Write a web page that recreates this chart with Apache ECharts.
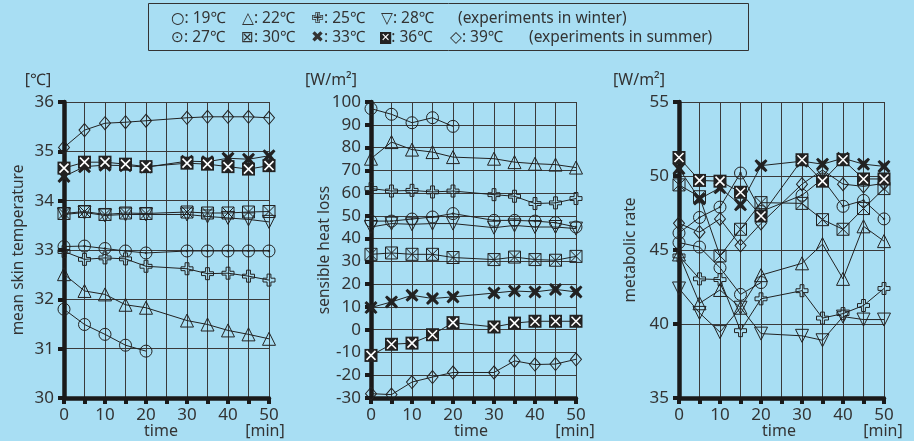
<!DOCTYPE html>
<html>
<head>
<meta charset="utf-8">
<script src="https://cdn.jsdelivr.net/npm/echarts@6/dist/echarts.min.js"></script>
<style>
html,body{margin:0;padding:0;background:#a8def3}
#main{width:914px;height:441px}
</style>
</head>
<body>
<div id="main"></div>
<script>
// sampling times [min] (no reading at 25)
var times = [0, 5, 10, 15, 20, 30, 35, 40, 45, 50];

// mean skin temperature [C]
var skin19 = [31.80, 31.49, 31.29, 31.07, 30.95];
var skin22 = [32.51, 32.17, 32.10, 31.89, 31.83, 31.57, 31.49, 31.37, 31.29, 31.20];
var skin25 = [32.97, 32.81, 32.84, 32.82, 32.67, 32.62, 32.52, 32.53, 32.47, 32.39];
var skin28 = [33.72, 33.76, 33.70, 33.72, 33.72, 33.72, 33.68, 33.65, 33.62, 33.57];
var skin27 = [33.07, 33.08, 33.03, 32.98, 32.94, 32.98, 32.98, 32.98, 32.98, 32.98];
var skin30 = [33.74, 33.78, 33.72, 33.75, 33.74, 33.77, 33.75, 33.75, 33.77, 33.78];
var skin33 = [34.49, 34.69, 34.72, 34.71, 34.68, 34.80, 34.79, 34.86, 34.84, 34.91];
var skin36 = [34.66, 34.78, 34.78, 34.74, 34.69, 34.76, 34.74, 34.69, 34.64, 34.71];
var skin39 = [35.08, 35.43, 35.57, 35.59, 35.62, 35.68, 35.70, 35.70, 35.70, 35.68];

// sensible heat loss [W/m2]
var heat19 = [97.1, 94.6, 90.9, 93.1, 89.3];
var heat22 = [75.1, 82.4, 79.1, 78.0, 75.8, 75.1, 73.6, 72.9, 72.5, 71.2];
var heat25 = [62.0, 60.9, 61.2, 60.5, 60.9, 59.3, 58.6, 55.4, 55.7, 57.6];
var heat28 = [45.1, 46.6, 46.3, 46.6, 46.6, 44.8, 45.8, 45.1, 45.1, 44.4];
var heat27 = [47.7, 47.7, 48.6, 49.5, 51.0, 48.0, 48.0, 47.7, 47.0, 45.1];
var heat30 = [33.1, 33.7, 33.1, 33.1, 31.7, 30.8, 31.9, 30.8, 30.5, 32.2];
var heat33 = [9.7, 12.2, 15.1, 13.7, 14.4, 16.1, 17.0, 16.6, 17.7, 16.6];
var heat36 = [-11.3, -6.4, -5.9, -2.2, 3.1, 1.2, 2.9, 3.7, 3.7, 3.7];
var heat39 = [-28.1, -28.5, -23.0, -20.8, -18.8, -18.8, -13.7, -15.3, -15.1, -13.0];

// metabolic rate [W/m2]
var meta19 = [45.5, 45.2, 43.8, 42.0, 42.8];
var meta22 = [44.7, 41.4, 42.3, 41.1, 43.3, 44.1, 45.4, 43.05, 46.6, 45.6];
var meta25 = [44.6, 43.05, 43.0, 39.55, 41.7, 42.25, 40.4, 40.7, 41.25, 42.4];
var meta28 = [42.4, 40.75, 39.45, 41.1, 39.35, 39.2, 38.9, 40.5, 40.3, 40.3];
var meta27 = [46.15, 47.2, 47.9, 50.2, 47.6, 48.7, 49.8, 47.95, 48.35, 47.1];
var meta30 = [49.4, 48.6, 44.6, 46.4, 48.2, 48.15, 47.05, 46.4, 47.8, 49.15];
var meta33 = [50.5, 48.45, 49.2, 48.05, 50.7, 51.0, 50.8, 51.2, 50.8, 50.65];
var meta36 = [51.25, 49.7, 49.65, 48.9, 47.3, 51.1, 49.65, 51.1, 49.8, 49.8];
var meta39 = [46.8, 46.2, 47.1, 45.3, 46.8, 49.45, 50.4, 49.45, 49.3, 49.5];

// axis ranges
var skinAxis = {min: 30, max: 36, interval: 1};
var heatAxis = {min: -30, max: 100, interval: 10};
var metaAxis = {min: 35, max: 55, interval: 5};

var FONT = '"Noto Sans", "DejaVu Sans", sans-serif';
var INK = '#222';
var TXT = '#333';
var GRIDC = '#3a3a3a';

var chart = echarts.init(document.getElementById('main'));

// marker shapes per temperature
var SYM = {
  t19: {symbol: 'circle', size: 12},
  t22: {symbol: 'triangle', size: 13},
  t25: {symbol: 'path://M3.4,0H6.6V3.4H10V6.6H6.6V10H3.4V6.6H0V3.4H3.4Z', size: 12},
  t28: {symbol: 'triangle', size: 13, rotate: 180},
  t27: {symbol: 'path://M5,0A5,5,0,1,1,4.999,0Z M5,4.3A0.7,0.7,0,1,1,4.999,4.3Z', size: 12},
  t30: {symbol: 'path://M0,0H10V10H0Z M0,0L10,10 M10,0L0,10', size: 12},
  t33: {symbol: 'path://M1.5,0L5,3L8.5,0L10,1.5L7,5L10,8.5L8.5,10L5,7L1.5,10L0,8.5L3,5L0,1.5Z', size: 13, filled: true},
  t36: {symbol: 'rect', size: 13, filled: true},
  t39: {symbol: 'diamond', size: [11, 13]}
};

function mkLine(gi, name, arr, s) {
  return {
    type: 'line', name: name, xAxisIndex: gi, yAxisIndex: gi,
    data: arr.map(function (v, i) { return [times[i], v]; }),
    symbol: s.symbol, symbolSize: s.size, symbolRotate: s.rotate || 0,
    symbolKeepAspect: true, showAllSymbol: true,
    lineStyle: {color: INK, width: 1},
    itemStyle: s.filled ? {color: INK, borderWidth: 0}
                        : {color: 'rgba(0,0,0,0)', borderColor: INK, borderWidth: 1},
    emphasis: {disabled: true}, silent: true, z: s.filled ? 4 : 3
  };
}
// white cross drawn on top of the black 36C squares
function mkWhiteX(gi, arr) {
  return {
    type: 'line', xAxisIndex: gi, yAxisIndex: gi,
    data: arr.map(function (v, i) { return [times[i], v]; }),
    symbol: 'path://M0,0L10,10M10,0L0,10', symbolSize: 9, showAllSymbol: true,
    lineStyle: {width: 0, opacity: 0},
    itemStyle: {color: 'rgba(0,0,0,0)', borderColor: '#fff', borderWidth: 1.6},
    emphasis: {disabled: true}, silent: true, z: 5
  };
}

function panel(gi, d) {
  return [
    mkLine(gi, '19', d[0], SYM.t19), mkLine(gi, '22', d[1], SYM.t22),
    mkLine(gi, '25', d[2], SYM.t25), mkLine(gi, '28', d[3], SYM.t28),
    mkLine(gi, '27', d[4], SYM.t27), mkLine(gi, '30', d[5], SYM.t30),
    mkLine(gi, '39', d[8], SYM.t39),
    mkLine(gi, '33', d[6], SYM.t33), mkLine(gi, '36', d[7], SYM.t36),
    mkWhiteX(gi, d[7])
  ];
}

var series = [].concat(
  panel(0, [skin19, skin22, skin25, skin28, skin27, skin30, skin33, skin36, skin39]),
  panel(1, [heat19, heat22, heat25, heat28, heat27, heat30, heat33, heat36, heat39]),
  panel(2, [meta19, meta22, meta25, meta28, meta27, meta30, meta33, meta36, meta39])
);

var lefts = [64, 371, 679];
var grids = lefts.map(function (l) { return {left: l, top: 102, width: 205, height: 296}; });

var xAxes = lefts.map(function (l, i) {
  return {
    type: 'value', gridIndex: i, min: 0, max: 50, interval: 5,
    axisLine: {show: true, onZero: false, lineStyle: {color: '#1a1a1a', width: 4.5}},
    axisTick: {show: true, length: 6, lineStyle: {color: '#1a1a1a', width: 4}},
    axisLabel: {
      fontSize: 17, color: TXT, fontFamily: FONT, margin: 9,
      formatter: function (v) { return v % 10 === 0 ? String(v) : ''; }
    },
    splitLine: {show: true, lineStyle: {color: GRIDC, width: 1}}
  };
});

var yAxes = [skinAxis, heatAxis, metaAxis].map(function (a, i) {
  return {
    type: 'value', gridIndex: i, min: a.min, max: a.max, interval: a.interval,
    axisLine: {show: true, onZero: false, lineStyle: {color: '#1a1a1a', width: 4.5}},
    axisTick: {show: true, length: 6, lineStyle: {color: '#1a1a1a', width: 4}},
    axisLabel: {fontSize: 17, color: TXT, fontFamily: FONT, margin: 10},
    splitLine: {show: true, lineStyle: {color: GRIDC, width: 1}}
  };
});

function txt(x, y, s, size, align, rot) {
  return {
    type: 'text', x: x, y: y, rotation: rot || 0, silent: true,
    style: {
      text: s, fill: TXT, font: size + 'px ' + FONT,
      textAlign: align || 'left', align: align || 'left',
      textVerticalAlign: 'middle', verticalAlign: 'middle'
    }
  };
}

var legendRows = [
  [[171, '○: 19℃'], [242, '△: 22℃'], [311, '✙: 25℃'], [381, '▽: 28℃'], [458, '(experiments in winter)']],
  [[171, '⊙: 27℃'], [241, '⊠: 30℃'], [311, '✖: 33℃'], [450, '◇: 39℃'], [529, '(experiments in summer)']]
];

var graphics = [
  {type: 'rect', shape: {x: 148.5, y: 3.5, width: 600, height: 47}, style: {fill: 'none', stroke: '#333', lineWidth: 1}, silent: true}
];
legendRows.forEach(function (row, r) {
  row.forEach(function (it) { graphics.push(txt(it[0], r === 0 ? 19 : 38, it[1], 15.5)); });
});
graphics.push({
  type: 'text', x: 380, y: 38, silent: true,
  style: {
    text: '{bx|✕}: 36℃', fill: TXT, font: '15.5px ' + FONT,
    textVerticalAlign: 'middle', verticalAlign: 'middle',
    rich: {bx: {backgroundColor: '#222', fill: '#fff', color: '#fff', fontSize: 11, padding: [1, 1, 0, 1], fontFamily: '"DejaVu Sans"'}}
  }
});

// unit labels, time labels, rotated axis names
graphics.push(txt(38, 80, '[℃]', 16, 'center'));
graphics.push(txt(331, 80, '[W/m²]', 16, 'center'));
graphics.push(txt(639, 80, '[W/m²]', 16, 'center'));
[[161, 265], [471, 575], [779, 883]].forEach(function (p) {
  graphics.push(txt(p[0], 431, 'time', 16, 'center'));
  graphics.push(txt(p[1], 431, '[min]', 16, 'center'));
});
graphics.push(txt(19, 250, 'mean skin temperature', 15.5, 'center', Math.PI / 2));
graphics.push(txt(325, 250, 'sensible heat loss', 15.5, 'center', Math.PI / 2));
graphics.push(txt(631, 250, 'metabolic rate', 15.5, 'center', Math.PI / 2));

chart.setOption({
  backgroundColor: '#a8def3',
  animation: false,
  grid: grids,
  xAxis: xAxes,
  yAxis: yAxes,
  series: series,
  graphic: graphics
});
</script>
</body>
</html>
